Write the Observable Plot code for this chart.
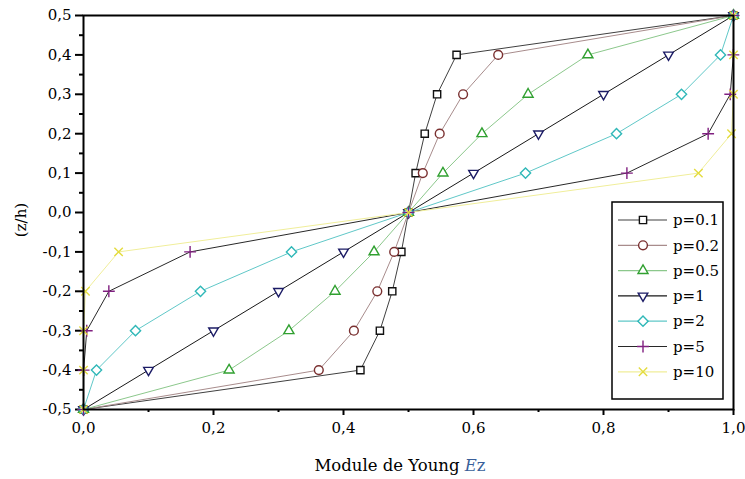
<!DOCTYPE html>
<html>
<head>
<meta charset="utf-8">
<script src="https://cdn.jsdelivr.net/npm/d3@7"></script>
<script src="https://cdn.jsdelivr.net/npm/@observablehq/plot@0.6"></script>
<style>
  body { margin: 0; }
</style>
</head>
<body>
<div id="chart"></div>
<script>
// ---- data ----
const zValues = [-0.5, -0.4, -0.3, -0.2, -0.1, 0.0, 0.1, 0.2, 0.3, 0.4, 0.5];
const seriesNames = ["p=0.1", "p=0.2", "p=0.5", "p=1", "p=2", "p=5", "p=10"];
const ezP01 = [0, 0.426, 0.456, 0.475, 0.489, 0.5, 0.511, 0.525, 0.544, 0.574, 1];
const ezP02 = [0, 0.362, 0.416, 0.452, 0.478, 0.5, 0.522, 0.548, 0.584, 0.638, 1];
const ezP05 = [0, 0.224, 0.316, 0.387, 0.447, 0.5, 0.553, 0.613, 0.684, 0.776, 1];
const ezP1  = [0, 0.1, 0.2, 0.3, 0.4, 0.5, 0.6, 0.7, 0.8, 0.9, 1];
const ezP2  = [0, 0.02, 0.08, 0.18, 0.32, 0.5, 0.68, 0.82, 0.92, 0.98, 1];
const ezP5  = [0, 0.0002, 0.005, 0.039, 0.164, 0.5, 0.836, 0.961, 0.995, 0.9998, 1];
const ezP10 = [0, 0, 0.0001, 0.003, 0.054, 0.5, 0.946, 0.997, 0.9999, 1, 1];
const seriesValues = [ezP01, ezP02, ezP05, ezP1, ezP2, ezP5, ezP10];
const yTicks = [-0.5, -0.4, -0.3, -0.2, -0.1, 0.0, 0.1, 0.2, 0.3, 0.4, 0.5];
const yMinorTicks = [-0.45, -0.35, -0.25, -0.15, -0.05, 0.05, 0.15, 0.25, 0.35, 0.45];
const xTicks = [0, 0.2, 0.4, 0.6, 0.8, 1.0];
const xMinorTicks = [0.1, 0.3, 0.5, 0.7, 0.9];

// ---- styles ----
const lineColors = ["#404040", "#a88c8c", "#8cc88c", "#181818", "#60c8c8", "#282828", "#f0ee9a"];
const markColors = ["#111111", "#7a3030", "#30a030", "#1c1c66", "#30b8b8", "#802080", "#e4dc40"];
const triDown = {
  draw(context, size) {
    const y = -Math.sqrt(size * 0.6 / (Math.sqrt(3) * 3));
    const s3 = Math.sqrt(3);
    context.moveTo(0, -y * 2);
    context.lineTo(-s3 * y, y);
    context.lineTo(s3 * y, y);
    context.closePath();
  }
};
const symbols = ["square2", "circle", "triangle2", triDown, "diamond2", "plus", "times"];
const d3Symbols = [d3.symbolSquare2, d3.symbolCircle, d3.symbolTriangle2, triDown, d3.symbolDiamond2, d3.symbolPlus, d3.symbolTimes];
const symbolR = [4.6, 4.4, 4.8, 4.6, 4.6, 3.9, 3.9];

const rows = [];
seriesNames.forEach((name, i) => {
  zValues.forEach((z, j) => rows.push({series: name, idx: i, z, ez: seriesValues[i][j]}));
});

const fmt = d => d3.format(".1f")(d).replace(".", ",").replace("−", "-");
const SERIF = "DejaVu Serif";

const chart = Plot.plot({
  width: 745,
  height: 479,
  marginLeft: 83,
  marginRight: 12,
  marginTop: 15,
  marginBottom: 70,
  style: {fontFamily: SERIF, fontSize: "15px"},
  x: {domain: [0, 1]},
  y: {domain: [-0.5, 0.5]},
  marks: [
    Plot.axisY({ticks: yTicks, tickSize: 8, tickPadding: 4, tickFormat: fmt, strokeWidth: 2, label: null, fontSize: 15, fill: "#000"}),
    Plot.axisY({ticks: yMinorTicks, tickSize: 4, tickFormat: () => "", strokeWidth: 2, label: null}),
    Plot.axisX({ticks: xTicks, tickSize: 6, tickPadding: 7, tickFormat: fmt, strokeWidth: 2, label: null, fontSize: 15, fill: "#000"}),
    Plot.axisX({ticks: xMinorTicks, tickSize: 3, tickFormat: () => "", strokeWidth: 2, label: null}),
    ...seriesNames.map((name, i) =>
      Plot.line(rows.filter(r => r.idx === i), {x: "ez", y: "z", stroke: lineColors[i], strokeWidth: 1})
    ),
    ...seriesNames.map((name, i) =>
      Plot.dot(rows.filter(r => r.idx === i), {
        x: "ez", y: "z", symbol: symbols[i], r: symbolR[i],
        stroke: markColors[i], fill: (i >= 5 ? "none" : "white"), strokeWidth: 1.4
      })
    ),
    Plot.frame({stroke: "#000", strokeWidth: 2})
  ]
});

document.getElementById("chart").appendChild(chart);

// ---- axis titles and legend ----
const svg = d3.select(chart).attr("font-family", SERIF);

svg.append("text")
  .attr("transform", "translate(21,220) rotate(-90)")
  .attr("text-anchor", "middle")
  .attr("dy", "0.35em")
  .attr("font-size", 15)
  .attr("fill", "#000")
  .text("(z/h)");

const xl = svg.append("text")
  .attr("x", 400)
  .attr("y", 471)
  .attr("text-anchor", "middle")
  .attr("font-size", 16.5)
  .attr("fill", "#000");
xl.append("tspan").text("Module de Young ");
xl.append("tspan").attr("fill", "#3a5f9a").attr("font-style", "italic").text("E");
xl.append("tspan").attr("fill", "#3a5f9a").text("z");

const lg = svg.append("g");
lg.append("rect")
  .attr("x", 612).attr("y", 202).attr("width", 111).attr("height", 197)
  .attr("fill", "white").attr("stroke", "#000").attr("stroke-width", 1.5);
seriesNames.forEach((name, i) => {
  const cy = 220 + i * 25.3;
  lg.append("line").attr("x1", 618).attr("x2", 667).attr("y1", cy).attr("y2", cy)
    .attr("stroke", lineColors[i]).attr("stroke-width", 1.2);
  lg.append("path")
    .attr("d", d3.symbol(d3Symbols[i], Math.PI * symbolR[i] * symbolR[i])())
    .attr("transform", `translate(643,${cy})`)
    .attr("fill", i >= 5 ? "none" : "white")
    .attr("stroke", markColors[i]).attr("stroke-width", 1.4);
  lg.append("text").attr("x", 673).attr("y", cy).attr("dy", "0.35em")
    .attr("text-anchor", "start")
    .attr("font-size", 15).attr("fill", "#000")
    .text(name);
});

svg.selectAll("text").each(function() {
  this.setAttribute("font-family", SERIF);
});
</script>
</body>
</html>
